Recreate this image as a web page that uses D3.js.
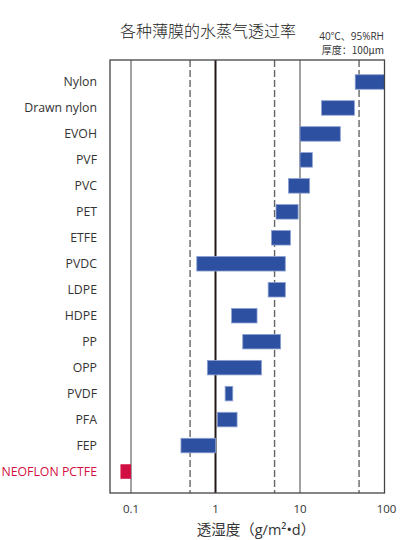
<!DOCTYPE html>
<html>
<head>
<meta charset="utf-8">
<script src="https://cdn.jsdelivr.net/npm/d3@7"></script>
<style>
 body { margin: 0; background: #fff; }
 text { font-family: "Noto Sans CJK SC", "Open Sans", sans-serif; }
 .latin { font-family: "Open Sans", "Noto Sans CJK SC", sans-serif; }
</style>
</head>
<body>
<div id="chart"></div>
<script>
// film names, top to bottom
var films = ['Nylon', 'Drawn nylon', 'EVOH', 'PVF', 'PVC', 'PET', 'ETFE', 'PVDC',
 'LDPE', 'HDPE', 'PP', 'OPP', 'PVDF', 'PFA', 'FEP', 'NEOFLON PCTFE'];
// range of water vapour transmission, g/m2.d
var lowValues  = [45, 18, 10, 10, 7.3, 5.2, 4.6, 0.6, 4.2, 1.55, 2.1, 0.8, 1.3, 1.05, 0.39, 0.075];
var highValues = [100, 44, 30, 14, 13, 9.5, 7.7, 6.7, 6.7, 3.1, 5.9, 3.5, 1.6, 1.8, 1.0, 0.1];
var tickValues = [0.1, 1, 10, 100];
var tickLabels = ['0.1', '1', '10', '100'];
var dashValues = [0.5, 5, 50];

var width = 400, height = 540;
// plot frame (plotTop: "top" is taken by window.top)
var plotLeft = 110, plotRight = 384.5, plotTop = 60, plotBottom = 493;

var svg = d3.select('#chart').append('svg')
 .attr('width', width).attr('height', height);

var x = d3.scaleLog().domain([0.0564, 100]).range([plotLeft, plotRight]);
var y = d3.scaleBand().domain(films).range([69, 484.5]).paddingInner(0.44).paddingOuter(0.22);

// title
svg.append('text').attr('x', 208).attr('y', 37).attr('text-anchor', 'middle')
 .style('font-size', '16px').style('font-weight', 300).style('fill', '#222').text('各种薄膜的水蒸气透过率');
svg.append('text').attr('class', 'latin').attr('x', 384).attr('y', 40).attr('text-anchor', 'end')
 .style('font-size', '10px').style('fill', '#333').text('40℃、95%RH');
svg.append('text').attr('x', 384).attr('y', 54).attr('text-anchor', 'end')
 .style('font-size', '10px').style('fill', '#333').text('厚度：100μm');

// grid lines
svg.append('g').selectAll('line').data(tickValues.slice(0, 3)).enter().append('line')
 .attr('x1', function(d){ return x(d); }).attr('x2', function(d){ return x(d); })
 .attr('y1', plotTop).attr('y2', plotBottom)
 .style('stroke', function(d){ return d == 1 ? '#231815' : '#555'; })
 .style('stroke-width', function(d){ return d == 1 ? 2 : 1.1; });
svg.append('g').selectAll('line').data(dashValues).enter().append('line')
 .attr('x1', function(d){ return x(d); }).attr('x2', function(d){ return x(d); })
 .attr('y1', plotTop).attr('y2', plotBottom)
 .style('stroke', '#666').style('stroke-width', 1.4).style('stroke-dasharray', '7,3');

// bars
svg.append('g').selectAll('rect').data(films).enter().append('rect')
 .attr('x', function(d, i){ return x(lowValues[i]); })
 .attr('width', function(d, i){ return x(highValues[i]) - x(lowValues[i]); })
 .attr('y', function(d){ return y(d); })
 .attr('height', y.bandwidth())
 .style('fill', function(d, i){ return i == films.length - 1 ? '#d20f43' : '#2e50a0'; })
 .style('stroke', function(d, i){ return i == films.length - 1 ? 'none' : '#8ea2d3'; })
 .style('stroke-width', 0.8);

// frame
svg.append('rect').attr('x', plotLeft).attr('y', plotTop)
 .attr('width', plotRight - plotLeft).attr('height', plotBottom - plotTop)
 .style('fill', 'none').style('stroke', '#444').style('stroke-width', 1.3);

// category labels
svg.append('g').selectAll('text').data(films).enter().append('text')
 .attr('class', 'latin')
 .attr('x', 97).attr('y', function(d){ return y(d) + y.bandwidth() / 2; })
 .attr('dy', '0.35em').attr('text-anchor', 'end')
 .style('font-size', '12.3px')
 .style('fill', function(d, i){ return i == films.length - 1 ? '#d20f43' : '#333'; })
 .text(function(d){ return d; });

// x tick labels
svg.append('g').selectAll('text').data(tickValues).enter().append('text')
 .attr('class', 'latin')
 .attr('x', function(d, i){ return i == 3 ? x(d) + 2 : x(d); }).attr('y', 513)
 .attr('text-anchor', 'middle').style('font-size', '11.5px').style('fill', '#333')
 .text(function(d, i){ return tickLabels[i]; });

// axis title
var axisTitle = svg.append('text').attr('x', 256).attr('y', 535).attr('text-anchor', 'middle')
 .style('font-size', '14.5px').style('fill', '#333');
axisTitle.append('tspan').text('透湿度（');
axisTitle.append('tspan').attr('class', 'latin').text('g/m²•d');
axisTitle.append('tspan').text('）');
</script>
</body>
</html>
